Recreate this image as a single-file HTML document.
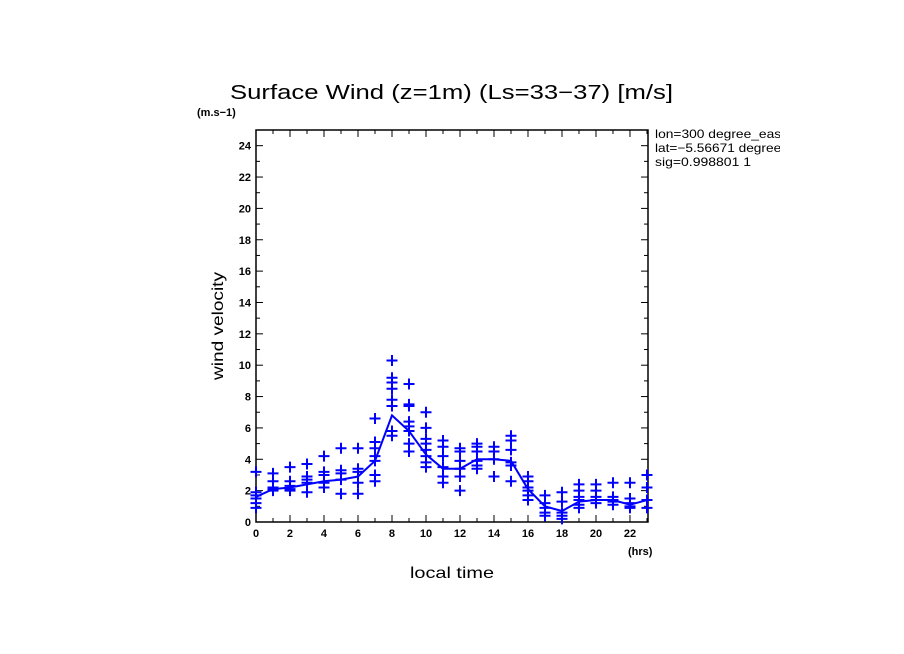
<!DOCTYPE html>
<html><head><meta charset="utf-8"><style>
body{margin:0;background:#fff;}
svg{display:block;font-family:"Liberation Sans",sans-serif;}
</style></head><body>
<svg id="chart" width="904" height="654" viewBox="0 0 904 654">
<defs><clipPath id="infoclip"><rect x="650" y="120" width="130" height="60"/></clipPath></defs>
<rect width="904" height="654" fill="#fff"/>
<text x="230" y="99" font-size="20" textLength="443" lengthAdjust="spacingAndGlyphs">Surface Wind (z=1m) (Ls=33−37) [m/s]</text>
<text x="197" y="116" font-size="11" font-weight="bold">(m.s−1)</text>
<text x="628" y="555" font-size="11" font-weight="bold">(hrs)</text>
<text x="410" y="578" font-size="16" textLength="84" lengthAdjust="spacingAndGlyphs">local time</text>
<text x="0" y="0" font-size="16" text-anchor="middle" textLength="108" lengthAdjust="spacingAndGlyphs" transform="translate(223,326) rotate(-90)">wind velocity</text>
<g font-size="12" clip-path="url(#infoclip)">
<text x="655" y="138" textLength="130" lengthAdjust="spacingAndGlyphs">lon=300 degree_east</text>
<text x="655" y="152" textLength="133" lengthAdjust="spacingAndGlyphs">lat=−5.56671 degrees</text>
<text x="655" y="166" textLength="96" lengthAdjust="spacingAndGlyphs">sig=0.998801 1</text>
</g>
<g id="axes"></g>
<g id="marks"></g>
</svg>
<script>
const hours = [0,1,2,3,4,5,6,7,8,9,10,11,12,13,14,15,16,17,18,19,20,21,22,23];
const meanValues = [1.6,2.1,2.2,2.4,2.6,2.7,2.9,3.9,6.8,5.8,4.3,3.4,3.4,4.0,4.0,3.9,2.1,1.0,0.7,1.3,1.4,1.4,1.1,1.4];
const samples = [
[3.2,1.9,1.7,1.5,1.2,0.9],
[3.1,2.6,2.2,2.0,2.1],
[3.5,2.6,2.3,2.1,2.0],
[3.7,2.9,2.7,2.5,1.9],
[4.2,3.2,3.0,2.5,2.2],
[4.7,3.3,3.1,2.7,1.8],
[4.7,3.4,3.2,2.5,1.8],
[6.6,5.1,4.7,4.2,3.9,3.0,2.6],
[10.3,9.2,8.9,8.5,7.8,7.4,5.8,5.5],
[8.8,7.5,7.4,6.4,6.1,5.8,5.0,4.5],
[7.0,6.0,5.3,5.0,4.6,4.2,3.8,3.5],
[5.2,4.8,4.2,3.5,2.9,2.5],
[4.7,4.5,3.9,3.4,2.9,2.0],
[5.0,4.8,4.5,3.9,3.6,3.4],
[4.8,4.5,4.0,2.9],
[5.5,5.2,4.6,3.8,3.6,2.6],
[2.9,2.6,2.2,2.0,1.7,1.4],
[1.7,1.2,0.9,0.6,0.4],
[1.9,1.3,0.6,0.4,0.2],
[2.4,2.0,1.6,1.4,1.1,0.9],
[2.4,2.0,1.6,1.4,1.2],
[2.5,1.6,1.4,1.3,1.1],
[2.5,1.5,1.2,1.0,0.9],
[3.0,2.2,1.4,0.9]
];
const xTicks = [0,2,4,6,8,10,12,14,16,18,20,22];
const yTicks = [0,2,4,6,8,10,12,14,16,18,20,22,24];

const NS="http://www.w3.org/2000/svg";
const X0=256,X1=648,Y0=522,Y1=130,XMAX=23.06,YMAX=25;
const sx=v=>X0+(X1-X0)*v/XMAX;
const sy=v=>Y0-(Y0-Y1)*v/YMAX;
function mk(tag,at,parent){const e=document.createElementNS(NS,tag);for(const k in at)e.setAttribute(k,at[k]);parent.appendChild(e);return e;}
const axes=document.getElementById('axes'), marks=document.getElementById('marks');

const frame=mk('rect',{x:X0,y:Y1,width:X1-X0,height:Y0-Y1,fill:'none',stroke:'#000','stroke-width':1.5},axes);


for(let h=0;h<=23;h++){
  const len=(h%2===0)?7:4;
  const t=mk('line',{x1:sx(h),x2:sx(h),y1:Y0,y2:Y0-len,stroke:'#000'},axes);
  
  
  mk('line',{x1:sx(h),x2:sx(h),y1:Y1,y2:Y1+len,stroke:'#000'},axes);
}
xTicks.forEach(v=>{
  const t=mk('text',{x:sx(v),y:Y0+15,'font-size':11,'font-weight':'bold','text-anchor':'middle'},axes);
  t.textContent=v;
  
  
});
for(let v=0;v<=25;v++){
  const len=(v%2===0)?7:4;
  const t=mk('line',{x1:X0,x2:X0+len,y1:sy(v),y2:sy(v),stroke:'#000'},axes);
  
  
  mk('line',{x1:X1,x2:X1-len,y1:sy(v),y2:sy(v),stroke:'#000'},axes);
}
yTicks.forEach(v=>{
  const t=mk('text',{x:X0-5,y:sy(v)+4,'font-size':11,'font-weight':'bold','text-anchor':'end'},axes);
  t.textContent=v;
  
  
});

samples.forEach((arr,i)=>{
  arr.forEach(v=>{
    const x=sx(hours[i]),y=sy(v);
    const p=mk('path',{d:`M${x-5.5},${y}H${x+5.5}M${x},${y-5.5}V${y+5.5}`,stroke:'#0000ff','stroke-width':2,fill:'none'},marks);
    
    
  });
});
const line=mk('polyline',{points:meanValues.map((v,i)=>sx(hours[i])+','+sy(v)).join(' '),fill:'none',stroke:'#0000ff','stroke-width':2},marks);


</script>
</body></html>
